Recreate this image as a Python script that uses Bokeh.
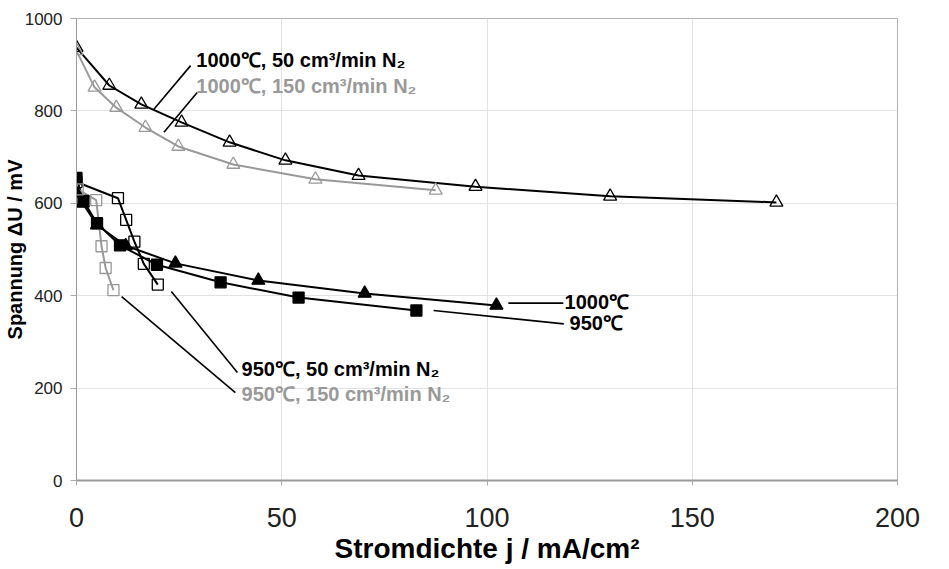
from bokeh.plotting import figure
from bokeh.models import Range1d, ColumnDataSource, FixedTicker
from bokeh.core.properties import value
from bokeh.embed import file_html
from bokeh.resources import INLINE

# ---- data ----
j_1000_50 = [0, 8.0, 15.8, 25.6, 37.3, 50.9, 68.7, 97.2, 130.0, 170.5]
u_1000_50 = [937, 855, 814, 775, 732, 693, 660, 636, 615, 602]

j_1000_150 = [0, 4.4, 9.7, 16.8, 24.8, 38.2, 58.2, 87.5]
u_1000_150 = [930, 851, 807, 764, 723, 684, 652, 628]

j_1000 = [0, 1.5, 5.0, 12.0, 24.1, 44.3, 70.2, 102.3]
u_1000 = [622, 600, 553, 508, 470, 433, 405, 379]

j_950 = [0, 1.7, 5.0, 10.6, 19.6, 35.1, 54.1, 82.8]
u_950 = [655, 605, 557, 509, 467, 429, 396, 368]

j_950_50 = [0, 10.1, 12.1, 14.1, 16.4, 19.8]
u_950_50 = [646, 611, 564, 517, 469, 424]

j_950_150 = [0.3, 4.8, 6.1, 7.1, 9.0]
u_950_150 = [630, 607, 507, 460, 412]

x_ticks = [0, 50, 100, 150, 200]
y_ticks = [0, 200, 400, 600, 800, 1000]

# annotation texts and anchor points (data units)
label_texts = ["1000℃, 50 cm³/min N₂", "1000℃, 150 cm³/min N₂",
               "950℃, 50 cm³/min N₂", "950℃, 150 cm³/min N₂",
               "1000℃", "950℃"]
label_x = [29.2, 29.2, 40.2, 40.2, 118.9, 120.1]
label_y = [911, 853, 242, 188, 387, 340]
label_col = ["#000000", "#999999", "#000000", "#999999", "#000000", "#000000"]

leader_x0 = [27.8, 29.4, 23.1, 11.0, 105.2, 87.0]
leader_y0 = [898, 840, 409, 398, 384, 368]
leader_x1 = [18.8, 21.3, 39.2, 38.7, 118.6, 118.7]
leader_y1 = [803, 754, 234, 190, 384, 339]

BLACK = "#000000"
GRAY = "#999999"
FONT = "Liberation Sans"

p = figure(width=933, height=567, output_backend="svg", toolbar_location=None,
           x_range=Range1d(0, 200), y_range=Range1d(0, 1000),
           min_border_left=76, min_border_right=36, min_border_top=18,
           min_border_bottom=87)

p.outline_line_color = "#b0b0b0"
p.outline_line_width = 1
p.background_fill_color = "white"

p.xgrid.grid_line_color = "#e2e2e2"
p.ygrid.grid_line_color = "#e2e2e2"

p.xaxis.ticker = FixedTicker(ticks=x_ticks)
p.yaxis.ticker = FixedTicker(ticks=y_ticks)
p.xaxis.minor_tick_line_color = None
p.yaxis.minor_tick_line_color = None

for ax in (p.xaxis, p.yaxis):
    ax.axis_line_color = "#999999"
    ax.major_tick_line_color = "#aaaaaa"
    ax.major_tick_in = 0
    ax.major_label_text_font = FONT
    ax.major_label_text_color = "#222222"
    ax.axis_label_text_font = FONT
    ax.axis_label_text_font_style = "bold"
    ax.axis_label_text_color = "#000000"

p.xaxis.axis_line_width = 2
p.xaxis.major_tick_out = 5
p.xaxis.major_label_standoff = 22
p.xaxis.major_label_text_font_size = "27px"
p.xaxis.axis_label = "Stromdichte j / mA/cm²"
p.xaxis.axis_label_text_font_size = "28px"
p.xaxis.axis_label_standoff = 3

p.yaxis.major_tick_out = 6
p.yaxis.major_label_standoff = 8
p.yaxis.major_label_text_font_size = "17px"
p.yaxis.axis_label = "Spannung ΔU / mV"
p.yaxis.axis_label_text_font_size = "20px"
p.yaxis.axis_label_standoff = -4

# curves
series = [
    (j_1000_50, u_1000_50, BLACK, "triangle", False),
    (j_1000_150, u_1000_150, GRAY, "triangle", False),
    (j_1000, u_1000, BLACK, "triangle", True),
    (j_950, u_950, BLACK, "square", True),
    (j_950_50, u_950_50, BLACK, "square", False),
    (j_950_150, u_950_150, GRAY, "square", False),
]
for xs, ys, col, _, _ in series:
    p.line(xs, ys, line_color=col, line_width=2)
for xs, ys, col, mk, filled in series:
    p.scatter(xs, ys, marker=mk, size=13 if mk == "triangle" else 11,
              line_color=col, line_width=1.3,
              fill_color=col if filled else None,
              fill_alpha=1 if filled else 0)

# leader lines
p.segment(x0=leader_x0, y0=leader_y0, x1=leader_x1, y1=leader_y1,
          line_color=BLACK, line_width=1.6)

# labels
src = ColumnDataSource(dict(x=label_x, y=label_y, t=label_texts, c=label_col))
p.text(x="x", y="y", text="t", text_color="c", source=src,
       text_font=value(FONT), text_font_style="bold", text_font_size="20px",
       text_baseline="middle", text_align="left")

open("out.html", "w").write(file_html(p, INLINE))
